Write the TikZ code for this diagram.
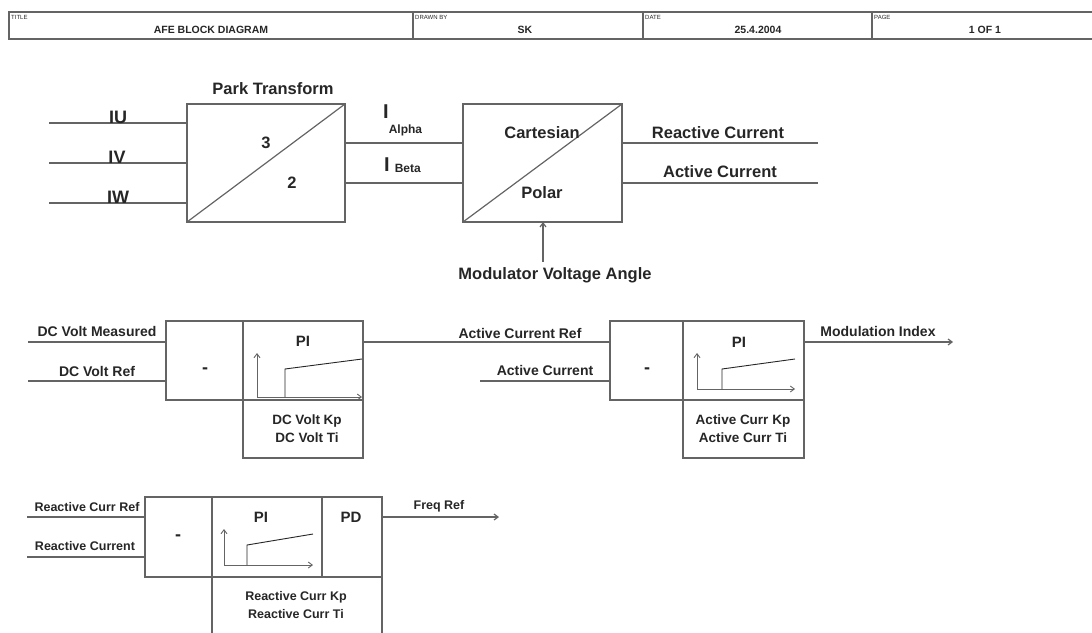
\documentclass[tikz,border=0pt]{standalone}
\usepackage{fontspec}
\setmainfont{Liberation Sans}
\usetikzlibrary{arrows.meta,positioning,calc}
\definecolor{afeedge}{RGB}{100,100,100}
\definecolor{afeink}{RGB}{38,38,38}
\tikzset{
  blk/.style={
    draw=afeedge, line width=1.2pt, inner sep=0pt, outer sep=0pt
  },
  wire/.style={draw=afeedge, line width=1.2pt},
  arr/.style={wire, -{Straight Barb[length=4pt,width=6pt]}},
  pgaxis/.style={draw=afeedge, line width=0.9pt, -{Straight Barb[length=4pt,width=6pt]}},
  pgstep/.style={draw=afeink, line width=0.9pt},
  lbl/.style={font=\fontsize{14}{17}\selectfont\bfseries, text=afeink, inner sep=0pt},
  smlbl/.style={lbl, font=\fontsize{12.5}{15}\selectfont\bfseries},
  biglbl/.style={lbl, font=\fontsize{16.5}{19}\selectfont\bfseries},
  inlbl/.style={lbl, font=\fontsize{18}{20}\selectfont\bfseries},
  pilbl/.style={lbl, font=\fontsize{15}{17}\selectfont\bfseries},
  parlbl/.style={lbl, font=\fontsize{13.5}{18}\selectfont\bfseries, align=center},
  smparlbl/.style={parlbl, font=\fontsize{12.5}{18}\selectfont\bfseries},
  tcap/.style={font=\fontsize{6}{6}\selectfont, text=afeink, inner sep=0pt, anchor=north west},
  ttl/.style={lbl, font=\fontsize{10.5}{12}\selectfont\bfseries}
}
\begin{document}
\begin{tikzpicture}[x=1pt, y=-1pt]
  \useasboundingbox (0,0) rectangle (1092,632);
  \clip (0,0) rectangle (1092,632);
  \node[blk, minimum width=404pt, minimum height=27pt] (ttlcell) at (211,25.5) {};
  \node[blk, minimum width=230pt, minimum height=27pt, right=0pt of ttlcell] (drawncell) {};
  \node[blk, minimum width=229pt, minimum height=27pt, right=0pt of drawncell] (datecell) {};
  \node[blk, minimum width=240pt, minimum height=27pt, right=0pt of datecell] (pagecell) {};
  \node[tcap] (ttlcap) at ([shift={(2,3)}]ttlcell.north west) {TITLE};
  \node[tcap] (drawncap) at ([shift={(2,3)}]drawncell.north west) {DRAWN BY};
  \node[tcap] (datecap) at ([shift={(2,3)}]datecell.north west) {DATE};
  \node[tcap] (pagecap) at ([shift={(2,3)}]pagecell.north west) {PAGE};
  \node[ttl] (ttltxt) at (211,30) {AFE BLOCK DIAGRAM};
  \node[ttl] (drawntxt) at (525,30) {SK};
  \node[ttl] (datetxt) at (758,30) {25.4.2004};
  \node[ttl] (pagetxt) at (985,30) {1 OF 1};

  \node[blk, minimum width=158pt, minimum height=118pt] (park) at (266,163) {};
  \draw[wire] (park.south west) -- (park.north east);
  \node[biglbl] (parkttl) at (273,89) {Park Transform};
  \node[biglbl] (three) at (266,143) {3};
  \node[biglbl] (two) at (292,183) {2};
  \coordinate (iuin) at (49,123);
  \coordinate (ivin) at (49,163);
  \coordinate (iwin) at (49,203);
  \draw[wire] (iuin) -- (iuin -| park.west);
  \draw[wire] (ivin) -- (ivin -| park.west);
  \draw[wire] (iwin) -- (iwin -| park.west);
  \node[inlbl] (iulbl) at (118,117) {IU};
  \node[inlbl] (ivlbl) at (117,157) {IV};
  \node[inlbl] (iwlbl) at (118,197) {IW};

  \node[blk, minimum width=159pt, minimum height=118pt] (cart) at (542.5,163) {};
  \draw[wire] (cart.south west) -- (cart.north east);
  \node[biglbl] (carttxt) at (542,133) {Cartesian};
  \node[biglbl] (polartxt) at (542,193) {Polar};
  \draw[wire] ($(park.east)+(0,-20)$) -- ($(cart.west)+(0,-20)$);
  \draw[wire] ($(park.east)+(0,20)$) -- ($(cart.west)+(0,20)$);
  \node[lbl, anchor=base west] (ialpha) at (383,118)
    {\fontsize{20}{20}\selectfont I\raisebox{-15pt}{\fontsize{12}{12}\selectfont Alpha}};
  \node[lbl, anchor=base west] (ibeta) at (384,171)
    {\fontsize{20}{20}\selectfont I\hspace{5pt}\raisebox{-1pt}{\fontsize{12}{12}\selectfont Beta}};
  \coordinate (rcout) at (818,143);
  \coordinate (acout) at (818,183);
  \draw[wire] (rcout -| cart.east) -- (rcout);
  \draw[wire] (acout -| cart.east) -- (acout);
  \node[biglbl] (rclbl) at (718,133) {Reactive Current};
  \node[biglbl] (aclbl) at (720,172) {Active Current};
  \node[biglbl] (mva) at (555,275) {Modulator Voltage Angle};
  \coordinate (mvatop) at (543,262);
  \draw[arr] (mvatop) -- (mvatop |- cart.south);

  \node[blk, minimum width=77pt, minimum height=79pt] (dcsub) at (204.5,360.5) {};
  \node[blk, minimum width=120pt, minimum height=79pt, right=0pt of dcsub] (dcpi) {};
  \node[blk, minimum width=120pt, minimum height=58pt, below=0pt of dcpi] (dcpar) {};
  \node[inlbl] (dcminus) at (205,371) {-};
  \node[pilbl] (dcpitxt) at (303,341) {PI};
  \node[parlbl] (dcpartxt) at (307,429) {DC Volt Kp\\DC Volt Ti};
  \draw[pgaxis] (257,397) -- (257,353);
  \draw[pgaxis] (257,397) -- (362,397);
  \draw[pgstep] (285,397) -- (285,369) -- (362,359);
  \coordinate (dcmin) at (28,342);
  \coordinate (dcrin) at (28,381);
  \draw[wire] (dcmin) -- (dcmin -| dcsub.west);
  \draw[wire] (dcrin) -- (dcrin -| dcsub.west);
  \node[lbl] (dcmlbl) at (97,331) {DC Volt Measured};
  \node[lbl] (dcrlbl) at (97,371) {DC Volt Ref};

  \node[blk, minimum width=73pt, minimum height=79pt] (acsub) at (646.5,360.5) {};
  \node[blk, minimum width=121pt, minimum height=79pt, right=0pt of acsub] (acpi) {};
  \node[blk, minimum width=121pt, minimum height=58pt, below=0pt of acpi] (acpar) {};
  \node[inlbl] (acminus) at (647,371) {-};
  \node[pilbl] (acpitxt) at (739,342) {PI};
  \node[parlbl] (acpartxt) at (743,429) {Active Curr Kp\\Active Curr Ti};
  \draw[pgaxis] (697,389) -- (697,353);
  \draw[pgaxis] (697,389) -- (795,389);
  \draw[pgstep] (722,389) -- (722,369) -- (795,359);
  \draw[wire] (dcmin -| dcpi.east) -- (dcmin -| acsub.west);
  \coordinate (acin) at (480,381);
  \draw[wire] (acin) -- (acin -| acsub.west);
  \node[lbl] (acrlbl) at (520,333) {Active Current Ref};
  \node[lbl] (acilbl) at (545,370) {Active Current};
  \coordinate (miout) at (953,342);
  \draw[arr] (miout -| acpi.east) -- (miout);
  \node[lbl] (milbl) at (878,331) {Modulation Index};

  \node[blk, minimum width=67pt, minimum height=80pt] (rcsub) at (178.5,537) {};
  \node[blk, minimum width=110pt, minimum height=80pt, right=0pt of rcsub] (rcpi) {};
  \node[blk, minimum width=60pt, minimum height=80pt, right=0pt of rcpi] (rcpd) {};
  \node[blk, minimum width=170pt, minimum height=90pt, anchor=north west] (rcpar) at (rcpi.south west) {};
  \node[inlbl] (rcminus) at (178,538) {-};
  \node[pilbl] (rcpitxt) at (261,517) {PI};
  \node[pilbl] (rcpdtxt) at (351,517) {PD};
  \node[smparlbl] (rcpartxt) at (296,605.5) {Reactive Curr Kp\\Reactive Curr Ti};
  \draw[pgaxis] (224,565) -- (224,529);
  \draw[pgaxis] (224,565) -- (313,565);
  \draw[pgstep] (247,565) -- (247,545) -- (313,534);
  \coordinate (rcrin) at (27,517);
  \coordinate (rciin) at (27,557);
  \draw[wire] (rcrin) -- (rcrin -| rcsub.west);
  \draw[wire] (rciin) -- (rciin -| rcsub.west);
  \node[smlbl] (rcrlbl) at (87,507) {Reactive Curr Ref};
  \node[smlbl] (rcilbl) at (85,546) {Reactive Current};
  \coordinate (frout) at (499,517);
  \draw[arr] (frout -| rcpd.east) -- (frout);
  \node[smlbl] (frlbl) at (439,506) {Freq Ref};
\end{tikzpicture}
\end{document}
